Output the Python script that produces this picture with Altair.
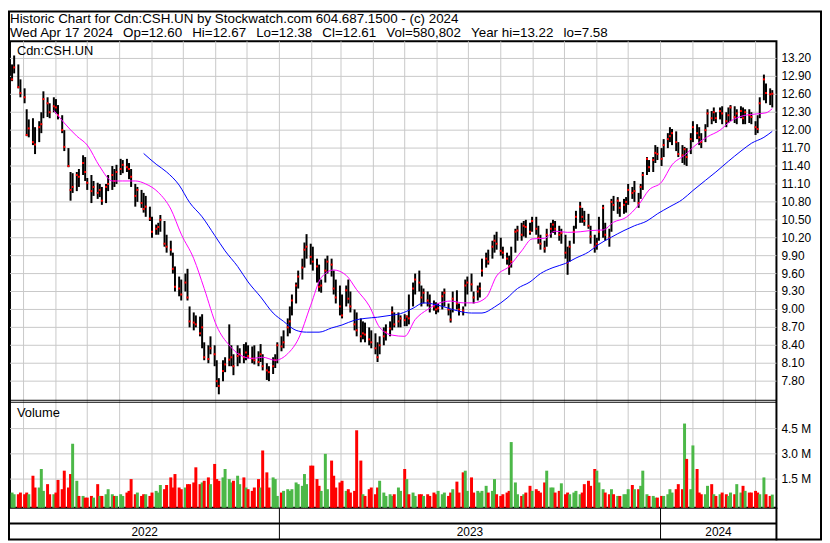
import altair as alt
import pandas as pd

# ---------------- data ----------------
# one bar per two trading days, Apr 2022 .. Apr 17 2024
hi = [
13.10,13.25,13.10,12.85,12.70,12.35,12.18,12.20,12.05,12.15,
12.30,12.65,12.55,12.45,12.55,12.52,12.42,12.25,12.00,11.70,
11.30,11.28,11.30,11.35,11.58,11.55,11.20,11.25,11.15,11.12,
11.10,11.05,11.10,11.25,11.40,11.35,11.42,11.52,11.50,11.52,
11.45,11.35,11.10,11.05,11.00,10.95,10.90,10.72,10.55,10.42,
10.45,10.58,10.48,10.25,10.15,9.95,9.72,9.55,9.50,9.60,
9.68,9.05,8.95,8.90,8.88,8.92,8.45,8.40,8.55,8.40,
8.15,7.85,8.15,8.20,8.75,8.40,8.25,8.40,8.35,8.42,
8.45,8.40,8.38,8.40,8.30,8.42,8.25,8.10,8.05,8.20,
8.25,8.45,8.55,8.65,8.85,9.05,9.25,9.45,9.65,9.85,
10.12,10.26,10.10,10.05,9.85,9.75,9.50,9.85,9.90,9.85,
9.65,9.50,9.40,9.25,9.40,9.50,9.30,9.00,8.95,8.85,
8.80,8.78,8.70,8.65,8.60,8.45,8.55,8.70,8.75,8.80,
9.05,8.95,8.95,8.90,8.92,8.90,9.25,9.45,9.60,9.65,
9.40,9.35,9.30,9.25,9.15,9.12,9.10,9.30,9.35,9.10,
9.00,9.30,9.32,9.10,9.05,9.50,9.55,9.60,9.30,9.40,
9.45,9.85,9.95,10.00,10.15,10.25,10.30,10.20,10.05,9.95,
9.90,10.05,10.35,10.40,10.45,10.48,10.50,10.45,10.55,10.55,
10.40,10.25,10.15,10.35,10.45,10.50,10.48,10.40,10.35,10.25,
10.05,10.15,10.40,10.65,10.80,10.70,10.65,10.60,10.40,10.25,
10.20,10.55,10.75,10.45,10.35,10.85,10.90,10.88,10.80,10.85,
10.88,11.10,11.05,11.15,10.95,11.10,11.30,11.55,11.50,11.55,
11.75,11.72,11.70,11.85,11.95,12.05,12.02,11.98,11.80,11.75,
11.72,11.70,11.95,12.15,12.10,12.05,11.95,12.10,12.35,12.32,
12.38,12.30,12.38,12.40,12.30,12.38,12.42,12.40,12.35,12.40,
12.38,12.35,12.35,12.30,12.15,12.25,12.55,12.93,12.78,12.70,
12.67]
lo = [
12.82,12.95,12.70,12.55,12.45,11.90,11.88,11.75,11.60,11.80,
11.95,12.20,12.22,12.20,12.30,12.28,12.18,11.95,11.65,11.38,
10.82,10.95,10.98,11.05,11.25,11.15,11.00,10.78,10.90,10.85,
10.88,10.75,10.78,10.98,11.00,11.05,11.10,11.25,11.28,11.30,
11.18,11.05,10.72,10.80,10.70,10.62,10.55,10.48,10.20,10.25,
10.25,10.30,10.05,9.95,9.90,9.60,9.30,9.22,9.15,9.30,
9.15,8.70,8.65,8.70,8.55,8.35,8.15,8.10,8.25,8.05,
7.70,7.58,7.80,7.95,8.05,8.05,7.90,8.05,8.10,8.10,
8.15,8.18,8.10,8.08,8.05,8.12,7.98,7.82,7.80,7.92,
8.02,8.10,8.30,8.35,8.55,8.60,8.90,9.10,9.35,9.50,
9.70,9.85,9.75,9.65,9.45,9.30,9.28,9.45,9.60,9.55,
9.25,9.10,8.90,8.85,9.05,9.10,8.95,8.65,8.55,8.45,
8.50,8.45,8.40,8.35,8.25,8.12,8.25,8.40,8.48,8.55,
8.65,8.70,8.70,8.70,8.72,8.72,8.75,9.05,9.25,9.30,
9.05,9.10,9.05,8.95,8.98,8.92,8.95,9.00,9.05,8.90,
8.78,8.95,9.00,8.90,8.90,9.05,9.25,9.30,9.10,9.15,
9.20,9.55,9.70,9.75,9.85,9.95,10.00,9.90,9.85,9.75,
9.58,9.70,9.95,10.15,10.15,10.22,10.20,10.25,10.30,10.25,
10.10,10.00,9.95,10.05,10.20,10.28,10.25,10.15,10.10,9.85,
9.58,9.80,10.10,10.35,10.45,10.45,10.40,10.35,10.10,9.95,
10.00,10.15,10.20,10.15,10.05,10.30,10.65,10.60,10.55,10.60,
10.62,10.75,10.85,10.80,10.70,10.85,11.00,11.25,11.30,11.30,
11.45,11.50,11.40,11.55,11.70,11.80,11.75,11.65,11.55,11.45,
11.42,11.40,11.60,11.80,11.85,11.75,11.70,11.80,12.05,12.10,
12.15,12.12,12.18,12.10,12.05,12.12,12.15,12.12,12.10,12.20,
12.10,12.10,12.12,12.10,11.92,11.95,12.20,12.50,12.45,12.42,
12.38]
cl = [
12.85,13.05,12.72,12.62,12.55,11.92,12.03,11.80,11.76,12.05,
12.10,12.52,12.45,12.30,12.40,12.38,12.25,12.00,11.72,11.40,
11.00,11.05,11.25,11.22,11.45,11.30,11.12,10.98,11.05,10.95,
11.00,10.82,11.05,11.10,11.25,11.15,11.30,11.35,11.42,11.38,
11.35,11.22,10.90,11.00,10.78,10.68,10.72,10.52,10.30,10.35,
10.38,10.50,10.10,10.05,10.00,9.68,9.38,9.35,9.25,9.45,
9.20,8.80,8.78,8.75,8.60,8.70,8.20,8.17,8.35,8.25,
7.80,7.72,7.97,8.08,8.16,8.20,8.05,8.22,8.25,8.20,
8.28,8.22,8.18,8.15,8.12,8.25,8.05,7.98,7.95,8.05,
8.15,8.40,8.38,8.45,8.70,8.80,9.15,9.40,9.55,9.70,
10.00,10.05,9.88,9.80,9.72,9.38,9.40,9.65,9.80,9.75,
9.35,9.20,9.05,8.90,9.32,9.18,9.05,8.75,8.65,8.55,
8.60,8.58,8.50,8.45,8.35,8.20,8.40,8.55,8.62,8.68,
8.95,8.75,8.80,8.85,8.82,8.88,8.85,9.35,9.50,9.45,
9.20,9.28,9.15,9.10,9.05,9.00,9.02,9.22,9.28,9.00,
8.83,9.18,9.10,9.00,8.98,9.40,9.45,9.42,9.20,9.30,
9.35,9.65,9.85,9.80,10.05,10.15,10.10,9.98,9.95,9.85,
9.72,9.80,10.30,10.32,10.25,10.40,10.38,10.30,10.48,10.35,
10.20,10.10,10.02,10.25,10.35,10.42,10.35,10.25,10.28,9.95,
9.78,10.05,10.30,10.55,10.72,10.55,10.48,10.40,10.22,10.05,
10.10,10.30,10.70,10.25,10.20,10.80,10.75,10.82,10.70,10.75,
10.80,11.00,10.95,10.98,10.78,11.05,11.25,11.52,11.38,11.50,
11.62,11.60,11.52,11.75,11.85,11.90,11.95,11.80,11.60,11.58,
11.68,11.55,11.85,12.05,11.95,11.88,11.80,12.00,12.28,12.20,
12.30,12.20,12.32,12.28,12.15,12.25,12.38,12.22,12.28,12.32,
12.20,12.30,12.25,12.22,12.05,12.02,12.45,12.85,12.62,12.60,
12.61]
# volume in millions
vol = [
0.7,0.6,0.6,0.7,0.6,0.7,0.6,1.7,1.0,1.0,
2.1,0.8,1.2,0.6,0.6,0.7,1.45,0.9,2.0,1.0,
1.8,3.6,1.4,0.5,0.5,0.4,0.4,0.5,0.4,1.2,
0.5,0.5,0.6,0.9,0.6,0.5,0.5,0.6,0.5,0.7,
0.8,1.5,0.6,0.7,0.5,0.6,0.6,0.5,0.7,0.8,
0.7,1.15,0.9,1.15,1.6,1.0,1.8,1.0,0.9,1.0,
1.2,1.2,1.3,2.2,1.2,1.3,1.4,1.6,1.2,2.4,
1.5,1.4,1.6,2.1,1.5,1.3,1.4,1.7,1.2,1.6,
1.0,0.9,0.8,1.0,1.5,1.0,3.2,1.9,1.0,1.6,
1.5,0.5,0.7,0.8,0.9,0.8,0.9,1.3,1.2,1.1,
1.8,1.2,2.3,2.3,1.5,1.1,0.8,3.0,0.9,2.6,
1.7,1.0,1.3,1.4,0.8,0.9,0.7,0.8,4.4,2.6,
0.6,0.5,0.9,1.0,0.6,1.0,1.4,0.7,0.5,0.6,
0.5,0.6,1.0,0.8,2.1,1.5,0.6,0.7,0.5,0.6,
0.6,0.5,0.6,0.5,0.7,0.6,0.8,0.6,0.7,0.5,
0.7,0.9,1.35,0.7,1.9,2.0,0.8,1.6,0.7,0.8,
0.7,0.8,1.1,0.7,0.8,1.5,0.6,0.5,0.6,0.7,
0.8,3.7,1.3,0.6,0.5,0.6,0.7,1.1,0.8,0.9,
0.8,0.7,1.3,2.0,1.0,1.0,0.7,0.8,1.25,0.6,
0.7,0.6,0.7,0.8,0.6,0.7,1.2,1.4,1.1,2.1,
2.0,1.3,0.9,0.7,0.6,0.9,0.6,0.5,0.5,0.6,
0.6,0.9,1.15,0.9,0.9,1.1,2.0,0.6,0.5,0.5,
0.4,0.4,0.5,0.5,0.6,0.9,0.7,0.9,1.2,0.9,
4.8,2.7,0.9,3.5,2.1,0.7,0.6,0.6,1.1,1.2,
0.6,0.5,0.6,0.7,0.6,0.5,0.7,0.6,1.2,0.7,
1.1,0.8,0.7,0.7,0.8,0.7,0.6,1.6,0.6,0.5,
0.58]

# moving averages (bar index, value)
ma_fast_idx = list(range(14, 259, 4)) + [260]
ma_fast = [12.33,12.12,11.90,11.75,11.39,11.15,11.15,11.15,11.10,10.96,
           10.68,10.26,9.85,9.35,8.72,8.40,8.24,8.18,8.20,8.15,
           8.26,8.50,9.07,9.53,9.66,9.57,9.33,9.06,8.70,8.57,
           8.55,8.83,9.00,9.10,9.14,9.11,9.11,9.20,9.56,9.72,
           9.98,10.18,10.19,10.31,10.29,10.30,10.32,10.33,10.46,10.54,
           10.75,11.00,11.13,11.42,11.58,11.77,11.89,12.00,12.15,12.24,
           12.27,12.29,12.36]
ma_slow_idx = list(range(45, 258, 4)) + [260]
ma_slow = [11.61,11.43,11.30,11.08,10.79,10.55,10.24,9.98,9.72,9.46,
           9.21,8.94,8.80,8.65,8.62,8.62,8.69,8.74,8.82,8.85,
           8.87,8.90,8.93,9.02,9.11,9.08,9.02,8.97,8.94,8.94,
           9.04,9.19,9.35,9.46,9.60,9.70,9.77,9.86,9.96,10.09,
           10.21,10.32,10.40,10.48,10.60,10.72,10.84,10.99,11.16,11.30,
           11.48,11.65,11.78,11.88,11.98]

price_ticks = [7.80, 8.10, 8.40, 8.70, 9.00, 9.30, 9.60, 9.90, 10.20, 10.50,
               10.80, 11.10, 11.40, 11.70, 12.00, 12.30, 12.60, 12.90, 13.20]
vol_ticks = [1.5, 3.0, 4.5]
vol_tick_labels = ["1.5 M", "3.0 M", "4.5 M"]
years = ["2022", "2023", "2024"]

title_1 = "Historic Chart for Cdn:CSH.UN by Stockwatch.com 604.687.1500 - (c) 2024"
title_2 = "\u00a0\u00a0\u2009".join(["Wed Apr 17 2024", "Op=12.60", "Hi=12.67", "Lo=12.38",
                                     "Cl=12.61", "Vol=580,802", "Year hi=13.22", "lo=7.58"])

# ---------------- tables ----------------
N = len(cl)
bdays = pd.bdate_range("2022-04-19", "2024-04-17")
dates = list(bdays[::-2])[:N][::-1]

dirs = ["up"]
for i in range(1, N):
    d = cl[i] - cl[i - 1]
    dirs.append("up" if d > 0 else ("down" if d < 0 else "flat"))

df = pd.DataFrame({"date": dates, "hi": hi, "lo": lo, "cl": cl, "vol": vol, "dir": dirs})
ma1_df = pd.DataFrame({"date": [dates[i] for i in ma_fast_idx], "v": ma_fast})
ma2_df = pd.DataFrame({"date": [dates[i] for i in ma_slow_idx], "v": ma_slow})
months_df = pd.DataFrame({"date": pd.date_range("2022-05-01", "2024-04-01", freq="MS")})
pt_df = pd.DataFrame({"p": price_ticks})
vt_df = pd.DataFrame({"v": vol_ticks, "t": vol_tick_labels})

x_start = pd.Timestamp("2022-04-18")
x_end = pd.Timestamp("2024-04-21")
ybounds = [x_start, pd.Timestamp("2023-01-01"), pd.Timestamp("2024-01-01"), x_end]
yr_df = pd.DataFrame({"date": [ybounds[k] + (ybounds[k + 1] - ybounds[k]) / 2 for k in range(3)],
                      "t": years})
ydiv_df = pd.DataFrame({"date": ybounds[1:3]})
one = pd.DataFrame({"a": [0]})

# ---------------- layout ----------------
W, H = 774, 471          # plot area (price + volume panels)
FONT = "Liberation Sans"
GRID = "#c8c8c8"

x_scale = alt.Scale(domain=[alt.DateTime(year=2022, month=4, date=18),
                            alt.DateTime(year=2024, month=4, date=21)])
X = alt.X("date:T", scale=x_scale, axis=None)
py = alt.Scale(domain=[5.682, 13.487], nice=False, zero=False)
vy = alt.Scale(domain=[-0.2, 27.506], nice=False, zero=False)

# price group
p_grid = alt.Chart(pt_df).mark_rule(color=GRID, strokeWidth=1).encode(
    y=alt.Y("p:Q", scale=py, axis=None))
p_lab = alt.Chart(pt_df).mark_text(align="left", baseline="middle", font=FONT,
                                   fontSize=12, color="black").encode(
    y=alt.Y("p:Q", scale=py, axis=None), x=alt.value(W + 5),
    text=alt.Text("p:Q", format=".2f"))
p_bars = alt.Chart(df).mark_rule(color="black", strokeWidth=2).encode(
    x=X, y=alt.Y("lo:Q", scale=py, axis=None), y2="hi:Q")
p_close = alt.Chart(df).mark_square(size=4, color="#ff0000", opacity=1).encode(
    x=X, y=alt.Y("cl:Q", scale=py, axis=None))
p_ma1 = alt.Chart(ma1_df).mark_line(color="#ff00ff", strokeWidth=1,
                                    interpolate="monotone").encode(
    x=X, y=alt.Y("v:Q", scale=py, axis=None))
p_ma2 = alt.Chart(ma2_df).mark_line(color="#0000ff", strokeWidth=1,
                                    interpolate="monotone").encode(
    x=X, y=alt.Y("v:Q", scale=py, axis=None))
price = alt.layer(p_grid, p_lab, p_bars, p_close, p_ma1, p_ma2)

# volume group
v_grid = alt.Chart(vt_df).mark_rule(color=GRID, strokeWidth=1).encode(
    y=alt.Y("v:Q", scale=vy, axis=None))
v_lab = alt.Chart(vt_df).mark_text(align="left", baseline="middle", font=FONT,
                                   fontSize=12, color="black").encode(
    y=alt.Y("v:Q", scale=vy, axis=None), x=alt.value(W + 5), text="t:N")
v_bars = alt.Chart(df).mark_rule(strokeWidth=3, strokeCap="butt").encode(
    x=X, y=alt.Y("vol:Q", scale=vy, axis=None), y2=alt.datum(-0.2),
    color=alt.Color("dir:N", legend=None,
                    scale=alt.Scale(domain=["up", "down", "flat"],
                                    range=["#4cb848", "#ff0000", "#a8a8a8"])))
volume = alt.layer(v_grid, v_lab, v_bars)

# frame, grid and texts
m_grid = alt.Chart(months_df).mark_rule(color=GRID, strokeWidth=1).encode(x=X)
sep1 = alt.Chart(one).mark_rule(color="black", strokeWidth=1).encode(
    x=alt.value(0), x2=alt.value(W), y=alt.value(362.5))
sep2 = alt.Chart(one).mark_rule(color="black", strokeWidth=1).encode(
    x=alt.value(0), x2=alt.value(W), y=alt.value(364.5))
row_line = alt.Chart(one).mark_rule(color="black", strokeWidth=2).encode(
    x=alt.value(0), x2=alt.value(W), y=alt.value(H + 16))
right_ext = alt.Chart(one).mark_rule(color="black", strokeWidth=2).encode(
    x=alt.value(W), y=alt.value(H), y2=alt.value(H + 33))
ydiv = alt.Chart(ydiv_df).mark_rule(color="black", strokeWidth=1).encode(
    x=X, y=alt.value(H), y2=alt.value(H + 32))
ylab = alt.Chart(yr_df).mark_text(font=FONT, fontSize=12, color="black",
                                  baseline="middle").encode(
    x=X, y=alt.value(H + 24.5), text="t:N")
outer = alt.Chart(one).mark_rect(fillOpacity=0, stroke="black", strokeWidth=2).encode(
    x=alt.value(-1), x2=alt.value(W + 45), y=alt.value(-30), y2=alt.value(H + 32))
t1 = alt.Chart(one).mark_text(align="left", baseline="alphabetic", font=FONT,
                              fontSize=13.5, color="black").encode(
    x=alt.value(0), y=alt.value(-18.5), text=alt.value(title_1))
t2 = alt.Chart(one).mark_text(align="left", baseline="alphabetic", font=FONT,
                              fontSize=13.5, color="black").encode(
    x=alt.value(0), y=alt.value(-4.5), text=alt.value(title_2))
sym = alt.Chart(one).mark_text(align="left", baseline="middle", font=FONT,
                               fontSize=13, color="black").encode(
    x=alt.value(7), y=alt.value(9.5), text=alt.value("Cdn:CSH.UN"))
vlab = alt.Chart(one).mark_text(align="left", baseline="middle", font=FONT,
                                fontSize=13, color="black").encode(
    x=alt.value(7), y=alt.value(375.5), text=alt.value("Volume"))

chart = alt.layer(
    m_grid, price, volume, sep1, sep2, row_line, right_ext, ydiv, ylab,
    outer, t1, t2, sym, vlab
).resolve_scale(y="independent").properties(
    width=W, height=H,
    autosize=alt.AutoSizeParams(type="none"),
    padding={"left": 2, "top": 31, "right": 46, "bottom": 33},
    background="white",
).configure_view(stroke="black", strokeWidth=2)

chart.save("out.html", embed_options={"renderer": "svg", "actions": False})
